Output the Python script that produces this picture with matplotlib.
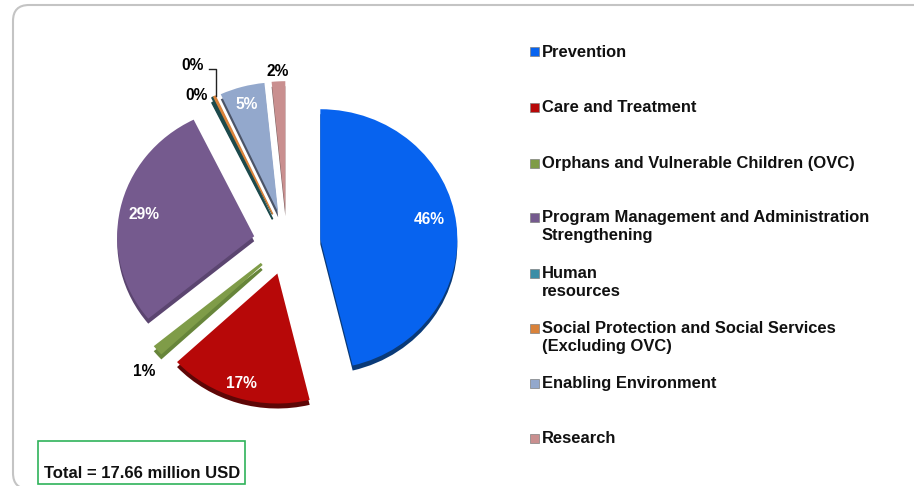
import matplotlib
matplotlib.use("Agg")
import matplotlib.pyplot as plt
from matplotlib.patches import FancyBboxPatch, Rectangle

plt.rcParams["font.family"] = ["Liberation Sans", "DejaVu Sans"]

# pie data, clockwise from 12 o'clock
categories = [
    "Prevention",
    "Care and Treatment",
    "Orphans and Vulnerable Children (OVC)",
    "Program Management and Administration\nStrengthening",
    "Human\nresources",
    "Social Protection and Social Services\n(Excluding OVC)",
    "Enabling Environment",
    "Research",
]
values = [46.3, 16.9, 1, 28.7, 0.2, 0.2, 5.3, 1.6]
pct_labels = ["46%", "17%", "1%", "29%", "0%", "0%", "5%", "2%"]
total_label = "Total = 17.66 million USD"

colors = ["#0763ef", "#b70808", "#7f9c48", "#755a8e", "#3b8da6", "#d9823a", "#93a8cc", "#c98f8f"]
pie_colors = ["#0763ef", "#b70808", "#7f9c48", "#755a8e", "#1c4a4c", "#d9823a", "#93a8cc", "#c98f8f"]
side_colors = ["#0a3a78", "#5e0606", "#67853a", "#5b4570", "#1c4a4c", "#1c4a4c", "#4b5468", "#7a6060"]

W, H = 914, 486
fig = plt.figure(figsize=(W / 100, H / 100), dpi=100, facecolor="white")

# background layer in pixel coordinates
bg = fig.add_axes([0, 0, 1, 1])
bg.set_xlim(0, W)
bg.set_ylim(H, 0)
bg.axis("off")
bg.add_patch(FancyBboxPatch((13, 5), 960, 484, boxstyle="round,pad=0,rounding_size=16",
                            fc="white", ec="#c4c4c4", lw=1.5))

# pie layer, stretched a little wider than tall like the original
cx, cy = 287, 243
rx, ry = 137, 130
span = 1.5
ax = fig.add_axes([(cx - span * rx) / W, 1 - (cy + span * ry) / H,
                   2 * span * rx / W, 2 * span * ry / H])
ax.patch.set_alpha(0)
explode = [0.245] * len(values)

# side of the slices first, shifted straight down
sides, _ = ax.pie(values, explode=explode, colors=side_colors, startangle=90, counterclock=False,
                  center=(0, -5 / ry))
wedges, _ = ax.pie(values, explode=explode, colors=pie_colors, startangle=90, counterclock=False,
                   wedgeprops={"lw": 0})
# the thinnest slices keep some width right down to the tip
for i, lw in ((2, 2.0), (4, 1.0), (5, 1.0)):
    wedges[i].set(edgecolor=pie_colors[i], linewidth=lw)
    sides[i].set(edgecolor=side_colors[i], linewidth=lw)
ax.set_aspect("auto")
ax.set_xlim(-span, span)
ax.set_ylim(-span, span)
ax.axis("off")

# top layer for everything that sits over the pie
top = fig.add_axes([0, 0, 1, 1])
top.set_xlim(0, W)
top.set_ylim(H, 0)
top.axis("off")
top.patch.set_alpha(0)

# percentage labels
pct_pos = [(429, 219, "white"), (241, 383, "white"), (144, 371, "black"), (144, 214, "white"),
           (193, 65, "black"), (197, 95, "black"), (247, 104, "white"), (278, 71, "black")]
for txt, (x, y, c) in zip(pct_labels, pct_pos):
    top.text(x, y, txt, color=c, fontsize=11.2, fontweight="bold", ha="center", va="center")

# leader line for the top 0%
top.plot([209, 216, 216], [69, 69, 96], color="#222222", lw=1)

# legend
legend_y = [52, 107, 163, 217, 273, 328, 383, 438]
for name, c, y in zip(categories, colors, legend_y):
    top.add_patch(Rectangle((530, y - 4.5), 9, 9, fc=c, ec="#808080", lw=0.5))
    top.text(542, y - 7, name, fontsize=11.9, fontweight="bold", color="#111111",
             ha="left", va="top", linespacing=1.28)

# total box
top.add_patch(Rectangle((38, 441), 207, 43, fc="white", ec="#2fb35a", lw=1.2))
top.text(44, 473, total_label, fontsize=11.95, fontweight="bold", color="#111111",
         ha="left", va="center")

fig.savefig("out.png", dpi=100)
